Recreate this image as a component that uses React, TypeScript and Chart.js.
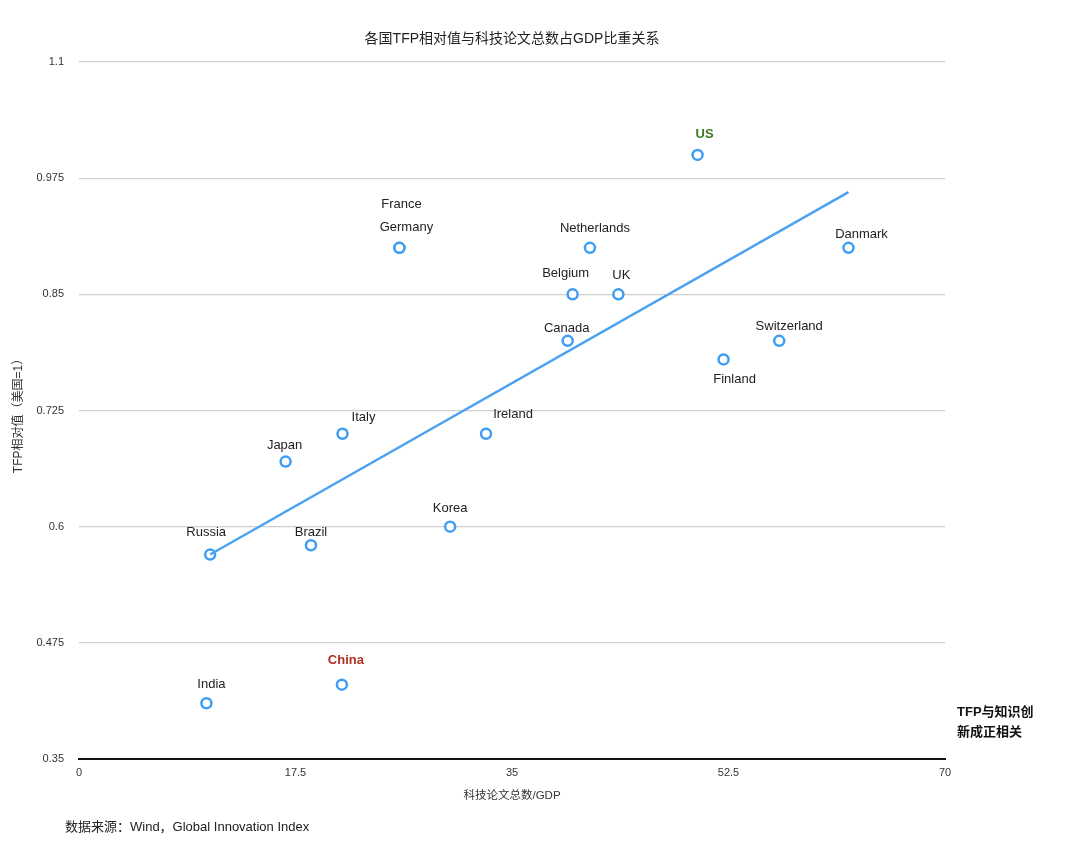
import React, { useEffect, useRef } from "react";
import { Chart, registerables } from "chart.js";

Chart.register(...registerables);

// ---- data ----
const countries = [
  "US", "France", "Germany", "Netherlands", "Danmark", "Belgium", "UK",
  "Canada", "Switzerland", "Finland", "Italy", "Ireland", "Japan",
  "Korea", "Russia", "Brazil", "China", "India",
];
const papersPerGDP = [
  50.0, 25.9, 25.9, 41.3, 62.2, 39.9, 43.6,
  39.5, 56.6, 52.1, 21.3, 32.9, 16.7,
  30.0, 10.6, 18.75, 21.25, 10.3,
];
const tfpRelative = [
  1.0, 0.9, 0.9, 0.9, 0.9, 0.85, 0.85,
  0.8, 0.8, 0.78, 0.7, 0.7, 0.67,
  0.6, 0.57, 0.58, 0.43, 0.41,
];
const trendX = [10.6, 62.2];
const trendY = [0.57, 0.96];
const xTicks = [0, 17.5, 35, 52.5, 70];
const xTickLabels = ["0", "17.5", "35", "52.5", "70"];
const yTicks = [0.35, 0.475, 0.6, 0.725, 0.85, 0.975, 1.1];
const yTickLabels = ["0.35", "0.475", "0.6", "0.725", "0.85", "0.975", "1.1"];

const titleText = "各国TFP相对值与科技论文总数占GDP比重关系";
const xTitle = "科技论文总数/GDP";
const yTitle = "TFP相对值（美国=1）";
const sourceText = "数据来源：Wind，Global Innovation Index";
const noteLines = ["TFP与知识创", "新成正相关"];

// ---- label placement / style (not data) ----
const labelOffset: Record<string, [number, number]> = {
  US: [7, -21],
  France: [2, -43],
  Germany: [7, -20],
  Netherlands: [5, -19],
  Danmark: [13, -13],
  Belgium: [-7, -21],
  UK: [3, -19],
  Canada: [-1, -12],
  Switzerland: [10, -14],
  Finland: [11, 20],
  Italy: [21, -16],
  Ireland: [27, -19],
  Japan: [-1, -16],
  Korea: [0, -18],
  Russia: [-4, -22],
  Brazil: [0, -13],
  China: [4, -24],
  India: [5, -19],
};
const labelColor: Record<string, string> = { US: "#3b7a22", China: "#b0301f" };

const SANS = '"Liberation Sans", Arial, Helvetica, sans-serif';
const CJK = '"Liberation Sans", "Noto Sans CJK SC", sans-serif';
const BLUE = "#3f9df3";

const annotate = {
  id: "annotate",
  afterDatasetsDraw(chart: any) {
    const ctx = chart.ctx;
    const meta = chart.getDatasetMeta(1);
    ctx.save();
    ctx.textAlign = "center";
    ctx.textBaseline = "middle";
    meta.data.forEach((pt: any, i: number) => {
      const name = countries[i];
      const off = labelOffset[name] || [0, -18];
      const special = labelColor[name];
      ctx.font = (special ? "bold " : "") + "13px " + SANS;
      ctx.fillStyle = special || "#222";
      ctx.fillText(name, pt.x + off[0], pt.y + off[1]);
    });
    ctx.restore();
  },
  afterDraw(chart: any) {
    const ctx = chart.ctx;
    const area = chart.chartArea;
    const cx = (area.left + area.right) / 2;
    ctx.save();
    ctx.textBaseline = "middle";
    ctx.textAlign = "center";
    ctx.fillStyle = "#222";
    ctx.font = "14px " + CJK;
    ctx.fillText(titleText, cx, 39);
    ctx.font = "11.5px " + CJK;
    ctx.fillStyle = "#333";
    ctx.fillText(xTitle, cx, 796);
    ctx.save();
    ctx.translate(19, 413);
    ctx.rotate(-Math.PI / 2);
    ctx.font = "12px " + CJK;
    ctx.fillText(yTitle, 0, 0);
    ctx.restore();
    ctx.textAlign = "left";
    ctx.fillStyle = "#222";
    ctx.font = "13px " + CJK;
    ctx.fillText(sourceText, 65, 827);
    ctx.font = "bold 13px " + CJK;
    ctx.fillStyle = "#111";
    ctx.fillText(noteLines[0], 957, 712);
    ctx.fillText(noteLines[1], 957, 732);
    ctx.restore();
  },
};

export default function App() {
  const ref = useRef<HTMLCanvasElement | null>(null);
  useEffect(() => {
    if (!ref.current) return;
    const chart = new Chart(ref.current, {
      type: "scatter",
      data: {
        datasets: [
          {
            type: "line",
            data: trendX.map((x, i) => ({ x, y: trendY[i] })),
            borderColor: "#4aa2f0",
            borderWidth: 2.4,
            pointRadius: 0,
            fill: false,
            order: 0,
          } as any,
          {
            data: papersPerGDP.map((x, i) => ({ x, y: tfpRelative[i] })),
            pointRadius: 5,
            pointBorderWidth: 2.5,
            borderColor: BLUE,
            backgroundColor: "#ffffff",
            pointBackgroundColor: "#ffffff",
            order: 1,
          },
        ],
      },
      plugins: [annotate],
      options: {
        responsive: false,
        animation: false,
        layout: { padding: { top: 62, right: 135, left: 0, bottom: 0 } },
        plugins: { legend: { display: false }, tooltip: { enabled: false }, title: { display: false } },
        scales: {
          x: {
            type: "linear",
            min: 0,
            max: 70,
            afterBuildTicks: (s: any) => {
              s.ticks = xTicks.map((v) => ({ value: v }));
            },
            afterFit: (s: any) => {
              s.height = 100;
            },
            grid: { display: false, drawTicks: false },
            border: { display: true, color: "#111", width: 2 },
            ticks: {
              padding: 7,
              color: "#333",
              font: { size: 11, family: SANS },
              maxRotation: 0,
              callback: (v: any) => {
                const i = xTicks.findIndex((t) => Math.abs(t - v) < 1e-6);
                return i >= 0 ? xTickLabels[i] : "";
              },
            },
          },
          y: {
            type: "linear",
            min: 0.35,
            max: 1.1,
            afterBuildTicks: (s: any) => {
              s.ticks = yTicks.map((v) => ({ value: v }));
            },
            afterFit: (s: any) => {
              s.width = 79;
            },
            grid: { color: "#cfcfcf", lineWidth: 1.3, drawTicks: false },
            border: { display: false },
            ticks: {
              padding: 15,
              color: "#333",
              font: { size: 11, family: SANS },
              callback: (v: any) => {
                const i = yTicks.findIndex((t) => Math.abs(t - v) < 1e-6);
                return i >= 0 ? yTickLabels[i] : "";
              },
            },
          },
        },
      },
    } as any);
    return () => chart.destroy();
  }, []);
  return (
    <div style={{ position: "absolute", left: 0, top: 0, width: 1080, height: 859, background: "#fff" }}>
      <canvas ref={ref} width={1080} height={859} style={{ width: 1080, height: 859 }} />
    </div>
  );
}
